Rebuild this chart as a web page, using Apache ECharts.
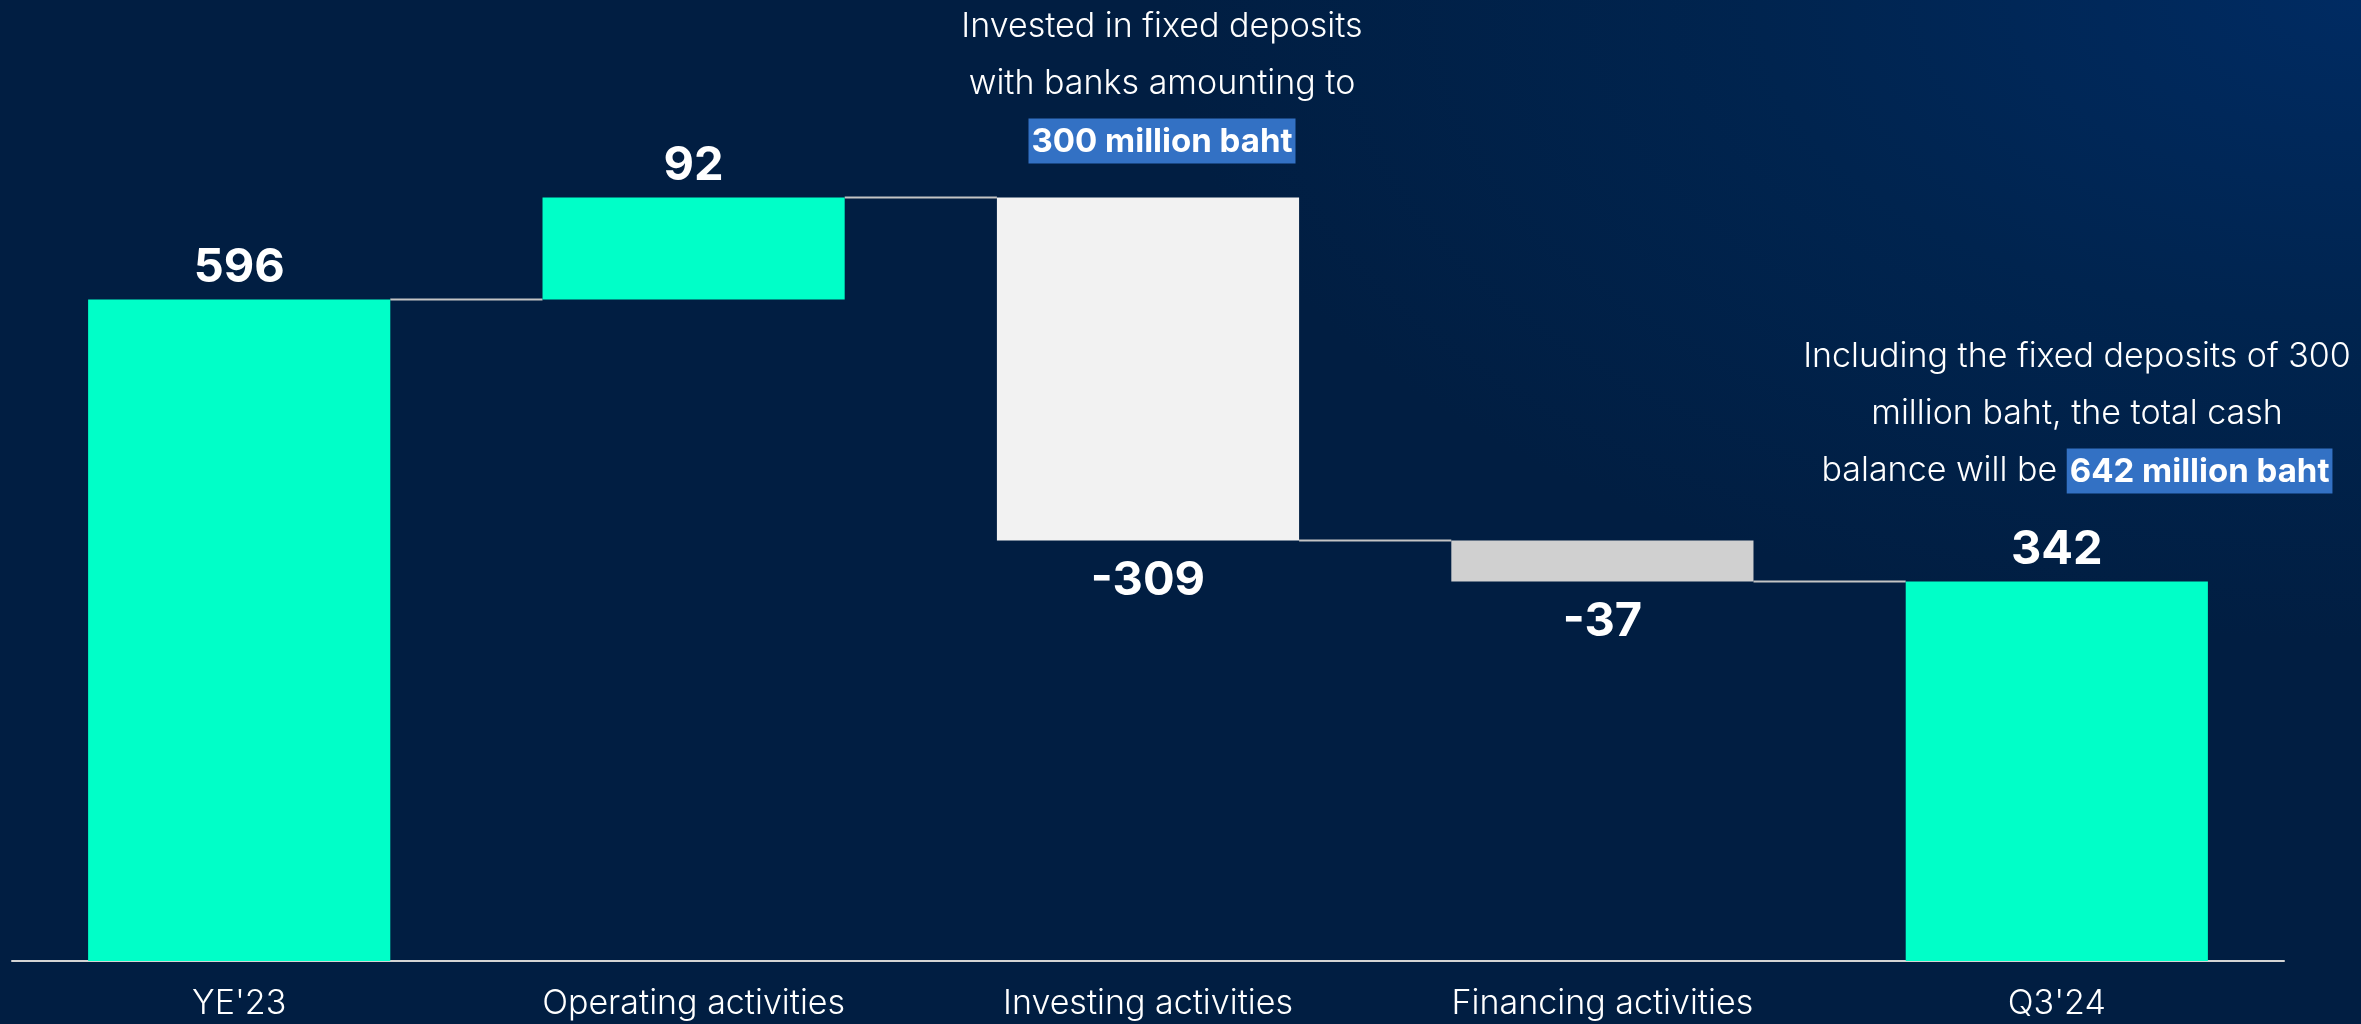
<!DOCTYPE html>
<html>
	<head>
		<meta charset="utf-8" />
		<title>cash flow</title>
		<script src="https://cdn.jsdelivr.net/npm/echarts@6/dist/echarts.min.js"></script>
		<style>
			html, body { margin: 0; padding: 0; }
			#cash {
				width: 2361px; height: 1024px;
				background: radial-gradient(ellipse 1500px 800px at 100% 0%, #002b62 0%, #00244f 40%, #011e42 80%);
			}
		</style>
	</head>

	<body>
		<div id="cash"></div>
	</body>

	<script type="text/javascript">

	// data
	var categories = ["YE'23", 'Operating activities', 'Investing activities', 'Financing activities', "Q3'24"];
	var values = [596, 92, -309, -37, 342];
	var isTotal = [true, false, false, false, true];

	var barColors = ['#00ffc8', '#00ffc8', '#f2f2f2', '#d0d0d0', '#00ffc8'];
	var font = 'Inter, "Open Sans", sans-serif';

	// waterfall: invisible base + visible part
	var baseData = [], showData = [], joinData = [];
	var running = 0;
	for (var i = 0; i < values.length; i++) {
		var v = values[i];
		var up = isTotal[i] || v >= 0;
		if (isTotal[i]) {
			baseData.push(0);
			running = v;
		} else {
			baseData.push(v >= 0 ? running : running + v);
			running += v;
		}
		showData.push({
			value: Math.abs(v),
			itemStyle: { color: barColors[i] },
			label: { position: up ? 'top' : 'bottom', distance: up ? 8 : 17 }
		});
		if (i < values.length - 1) joinData.push([i, running]);
	}

	var noteRich = {
		hl: {
			fill: '#ffffff',
			fontFamily: font,
			fontWeight: 'bold',
			fontSize: 33,
			backgroundColor: '#3371c4',
			padding: [7, 3, 5, 3]
		}
	};

	var myChart = echarts.init(document.getElementById('cash'));
	var option = {
		animation: false,
		grid: { left: 12, right: 77, top: 0, bottom: 63 },
		xAxis: {
			type: 'category',
			data: categories,
			axisLine: { lineStyle: { color: '#d4d4d4', width: 2 } },
			axisTick: { show: false },
			axisLabel: {
				color: '#ffffff',
				fontFamily: font,
				fontWeight: 300,
				fontSize: 34,
				margin: 26
			}
		},
		yAxis: {
			type: 'value',
			min: 0,
			max: 866,
			show: false
		},
		graphic: [
			{
				type: 'text',
				x: 1162, y: 84,
				style: {
					text: 'Invested in fixed deposits\nwith banks amounting to\n{hl|300 million baht}',
					fill: '#ffffff',
					font: '300 34px ' + font,
					lineHeight: 57,
					align: 'center',
					verticalAlign: 'middle',
					rich: noteRich
				}
			},
			{
				type: 'text',
				x: 2077, y: 414,
				style: {
					text: 'Including the fixed deposits of 300\nmillion baht, the total cash\nbalance will be {hl|642 million baht}',
					fill: '#ffffff',
					font: '300 34px ' + font,
					lineHeight: 57,
					align: 'center',
					verticalAlign: 'middle',
					rich: noteRich
				}
			}
		],
		series: [
			{
				type: 'bar',
				stack: 'wf',
				barWidth: '66.5%',
				itemStyle: { color: 'transparent' },
				silent: true,
				data: baseData
			},
			{
				type: 'bar',
				stack: 'wf',
				barWidth: '66.5%',
				label: {
					show: true,
					color: '#ffffff',
					fontFamily: font,
					fontWeight: 'bold',
					fontSize: 47,
					formatter: function (p) { return values[p.dataIndex]; }
				},
				data: showData
			},
			{
				// connector lines between bars
				type: 'custom',
				silent: true,
				z: 1,
				renderItem: function (params, api) {
					var p = api.coord([api.value(0), api.value(1)]);
					var band = api.size([1, 0])[0];
					var half = band * 0.665 / 2;
					return {
						type: 'line',
						shape: { x1: p[0] + half, y1: p[1], x2: p[0] + band - half, y2: p[1] },
						style: { stroke: '#c4c4c4', lineWidth: 2 }
					};
				},
				data: joinData
			}
		]
	};

	myChart.setOption(option);

	</script>
</html>
